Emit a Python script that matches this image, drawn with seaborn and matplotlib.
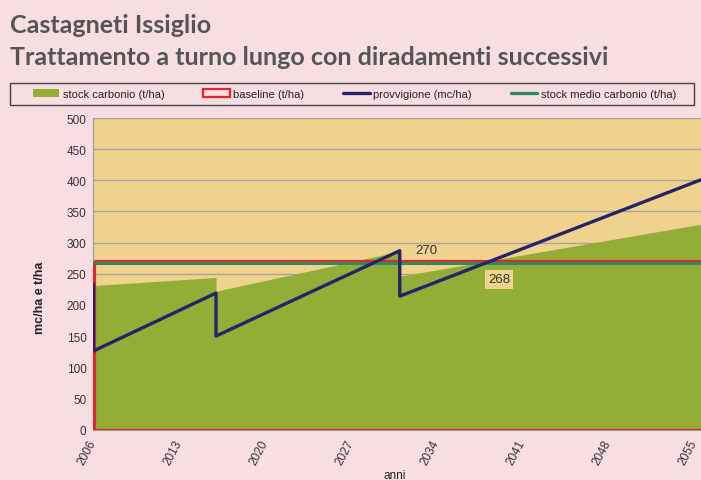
import matplotlib
matplotlib.use("Agg")
import matplotlib.pyplot as plt
import seaborn as sns
import pandas as pd
from matplotlib.patches import Patch, Rectangle
from matplotlib.lines import Line2D

# --- data -------------------------------------------------------------
# carbon stock (t/ha): rises, then drops at each thinning
stock_years = [2006, 2016, 2016, 2031, 2031, 2056]
stock_values = [231, 244, 222, 286, 246, 331]

# growing stock (mc/ha): cuts at 2006, 2016 and 2031
prov_years = [2006, 2006, 2016, 2016, 2031, 2031, 2056]
prov_values = [233, 126, 219, 150, 287, 214, 404]

baseline_value = 270
mean_stock_value = 268

x_ticks = [2006, 2013, 2020, 2027, 2034, 2041, 2048, 2055]
y_ticks = list(range(0, 501, 50))

legend_labels = ["stock carbonio (t/ha)", "baseline (t/ha)",
                 "provvigione (mc/ha)", "stock medio carbonio (t/ha)"]

# --- style ------------------------------------------------------------
sns.set_style("white")
plt.rcParams["font.family"] = ["Liberation Sans", "DejaVu Sans"]

PINK = "#F6DEE3"
TAN = "#EFD28D"
GREEN = "#93AE36"
NAVY = "#27236B"
RED = "#E3262A"
TEAL = "#2E8A5E"
GRID = "#A8A29A"
TEXT = "#333333"

W, H = 701, 481
fig = plt.figure(figsize=(W / 100, H / 100), dpi=100, facecolor=PINK)

x0, x1 = 93.5, 706.0
y0, y1 = 430.5, 119.0
ax = fig.add_axes([x0 / W, 1 - y0 / H, (x1 - x0) / W, (y0 - y1) / H])
ax.set_facecolor(TAN)

# carbon stock area
ax.fill_between(stock_years, 0, stock_values, color=GREEN, lw=0, zorder=2)

# baseline drawn as an outlined area
ax.fill_between([stock_years[0], stock_years[-1]], 0, baseline_value,
                facecolor="none", edgecolor=RED, lw=2.3, zorder=3)

# mean carbon stock
mean_df = pd.DataFrame({"anno": [stock_years[0], stock_years[-1]],
                        "valore": [mean_stock_value, mean_stock_value]})
sns.lineplot(data=mean_df, x="anno", y="valore", color=TEAL, lw=2.2,
             ax=ax, zorder=3.5)

# growing stock line
prov_df = pd.DataFrame({"anno": prov_years, "valore": prov_values})
sns.lineplot(data=prov_df, x="anno", y="valore", sort=False, estimator=None,
             color=NAVY, lw=2.4, ax=ax, zorder=4)

# value labels
ax.text(2033.2, 288, str(baseline_value), fontsize=9.5, color=TEXT,
        ha="center", va="center", zorder=5)
ax.text(2039.1, 241, str(mean_stock_value), fontsize=9.5, color=TEXT,
        ha="center", va="center", zorder=5,
        bbox=dict(boxstyle="square,pad=0.25", facecolor=TAN, edgecolor="none"))

# axes
ax.set_xlim(2006, 2056)
ax.set_ylim(0, 500)
ax.set_yticks(y_ticks)
ax.set_xticks(x_ticks)
ax.set_xticklabels([str(t) for t in x_ticks], rotation=62, ha="right",
                   va="center", rotation_mode="anchor")
ax.tick_params(axis="both", labelsize=8.5, length=3, width=0.8, pad=2)
ax.tick_params(axis="x", colors="#999999", labelcolor=TEXT, pad=5)
ax.tick_params(axis="y", colors="#999999", labelcolor=TEXT)
ax.yaxis.grid(True, color=GRID, lw=1)
ax.set_axisbelow(True)
for side in ("top", "right"):
    ax.spines[side].set_visible(False)
ax.spines["left"].set_color("#999999")
ax.spines["bottom"].set_color("#999999")
ax.set_xlabel("")
ax.set_ylabel("")

fig.text(40 / W, 1 - 298 / H, "mc/ha e t/ha", rotation=90, fontsize=9,
         fontweight="bold", color="#222222", ha="center", va="center")
fig.text(395 / W, 1 - 479 / H, "anni", fontsize=8.5, color="#222222",
         ha="center", va="baseline")

# titles
fig.text(10 / W, 1 - 33 / H, "Castagneti Issiglio", fontsize=18,
         fontweight="bold", color="#555555", family="Lato",
         ha="left", va="baseline")
fig.text(10 / W, 1 - 65 / H, "Trattamento a turno lungo con diradamenti successivi",
         fontsize=18, fontweight="bold", color="#555555", family="Lato",
         ha="left", va="baseline")

# legend box
fig.patches.append(Rectangle((10 / W, 1 - 106 / H), 684 / W, 22 / H,
                             transform=fig.transFigure, facecolor="none",
                             edgecolor="#444444", lw=1))
handles = [
    Patch(facecolor=GREEN, edgecolor="none"),
    Patch(facecolor="none", edgecolor=RED, lw=1.6),
    Line2D([], [], color=NAVY, lw=2.4),
    Line2D([], [], color=TEAL, lw=2.4),
]
fig.legend(handles, legend_labels, ncol=4, frameon=False, fontsize=8.0,
           loc="center left", bbox_to_anchor=(27 / W, 1 - 95 / H),
           handlelength=2.4, handleheight=0.8, handletextpad=0.3,
           columnspacing=3.5, borderpad=0, labelcolor="#222222")

fig.savefig("out.png", dpi=100, facecolor=PINK)
